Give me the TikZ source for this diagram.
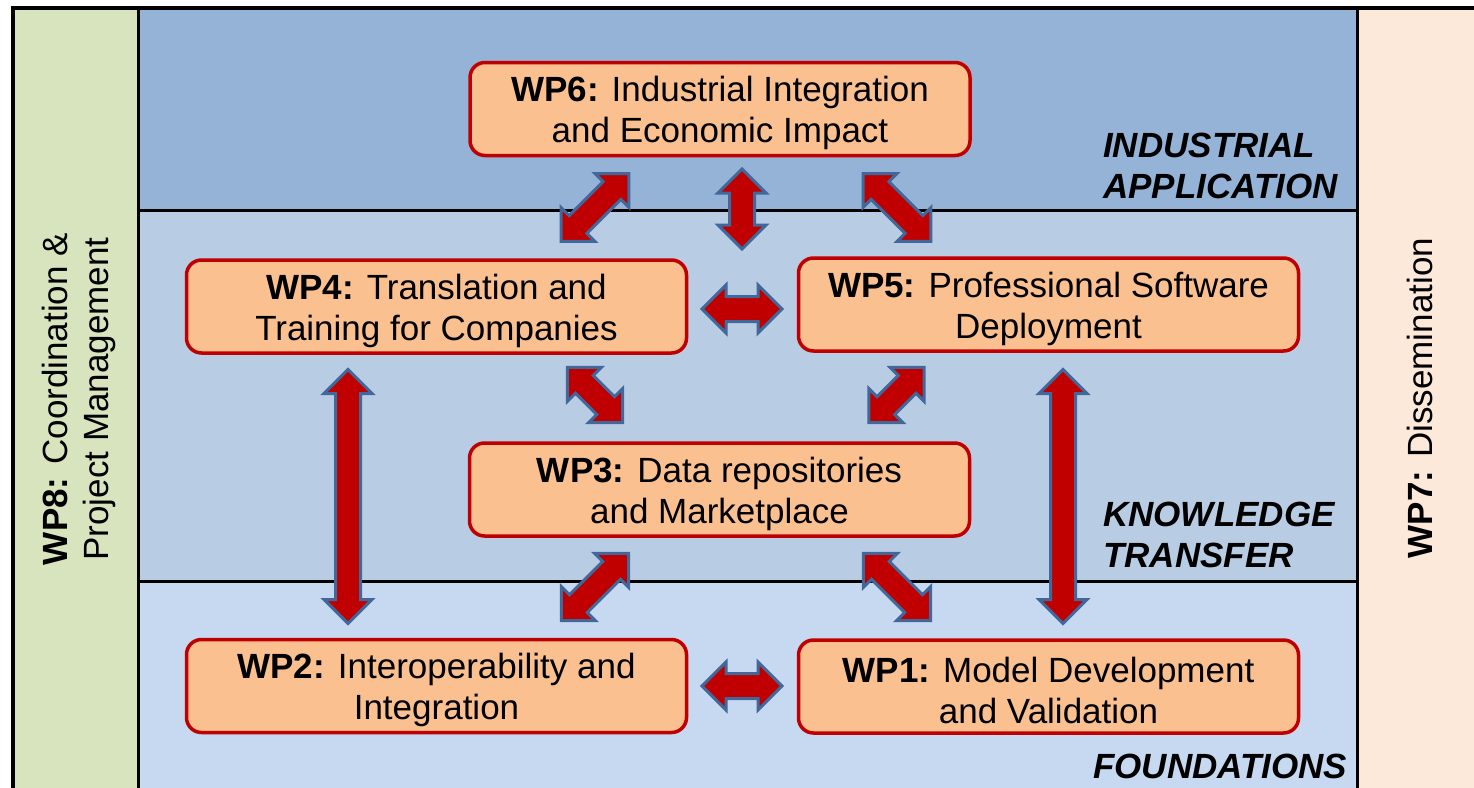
\documentclass[tikz,border=0pt]{standalone}
\usepackage{fontspec}
\setmainfont{Liberation Sans}
\usetikzlibrary{calc}
\definecolor{bandA}{HTML}{95B3D7}
\definecolor{bandB}{HTML}{B8CCE4}
\definecolor{bandC}{HTML}{C6D9F1}
\definecolor{wpgreen}{HTML}{D7E4BD}
\definecolor{wppeach}{HTML}{FDE9D9}
\definecolor{boxfill}{HTML}{FAC090}
\definecolor{boxline}{HTML}{C00000}
\definecolor{arrfill}{HTML}{C00000}
\definecolor{arrline}{HTML}{41689A}
\newcommand\topstrut{\rule{0pt}{34pt}}
\tikzset{
  wpbox/.style={draw=boxline, fill=boxfill, line width=3.5pt, rounded corners=15pt,
    minimum width=500pt, minimum height=93pt, align=center, inner sep=0pt,
    font=\fontsize{35}{41}\selectfont},
  blockarrow/.style={draw=arrline, fill=arrfill, line width=3pt, line join=miter},
  lbl/.style={font=\fontsize{35}{41}\selectfont\bfseries\itshape, align=left, inner sep=0pt},
  sidetxt/.style={font=\fontsize{35}{41}\selectfont, align=center, inner sep=0pt, rotate=90},
  sepline/.style={draw=black, line width=3pt},
}
\newcommand\blockarr[3]{%
  \begin{scope}[shift={(#1)}, rotate=#2]
    \path[blockarrow] (-#3/2,0) -- ++(24,24) -- ++(0,-11.5) -- (#3/2-24,12.5) -- ++(0,11.5)
      -- (#3/2,0) -- ++(-24,-24) -- ++(0,11.5) -- (-#3/2+24,-12.5) -- ++(0,-11.5) -- cycle;
  \end{scope}}
\begin{document}
\begin{tikzpicture}[x=1pt,y=-1pt]
\useasboundingbox (0,0) rectangle (1474,787);
\clip (0,0) rectangle (1474,787);
\fill[white] (0,0) rectangle (1474,787);
% bands
\fill[bandA] (138,8) rectangle (1357,210);
\fill[bandB] (138,210) rectangle (1357,581);
\fill[bandC] (138,581) rectangle (1357,800);
\fill[wpgreen] (13,8) rectangle (138,800);
\fill[wppeach] (1357,8) rectangle (1480,800);
\draw[sepline] (138,210) -- (1357,210);
\draw[sepline] (138,581) -- (1357,581);
\draw[sepline] (138,8) -- (138,800);
\draw[sepline] (1357,8) -- (1357,800);
\draw[black, line width=4pt] (13,800) -- (13,8) -- (1480,8);
% side texts
\node[sidetxt] (wp8) at (79,399) {\textbf{WP8:} Coordination \&\\Project Management};
\node[sidetxt] (wp7) at (1420,398) {\textbf{WP7:} Dissemination};
% band labels
\node[lbl, anchor=west] (lind) at (1103,166) {INDUSTRIAL\\APPLICATION};
\node[lbl, anchor=west] (lknow) at (1103,535) {KNOWLEDGE\\TRANSFER};
\node[lbl, anchor=west] (lfound) at (1093,766) {FOUNDATIONS};
% work package boxes
\node[wpbox] (wp6) at (720,109) {\topstrut\textbf{WP6:} Industrial Integration\\and Economic Impact};
\node[wpbox] (wp4) at (436.5,306.5) {\topstrut\textbf{WP4:} Translation and\\Training for Companies};
\node[wpbox] (wp5) at (1048.5,304.5) {\topstrut\textbf{WP5:} Professional Software\\Deployment};
\node[wpbox] (wp3) at (719.5,489.5) {\topstrut\textbf{WP3:} Data repositories\\and Marketplace};
\node[wpbox] (wp2) at (436.5,686) {\topstrut\textbf{WP2:} Interoperability and\\Integration};
\node[wpbox] (wp1) at (1048.5,686.5) {\topstrut\textbf{WP1:} Model Development\\and Validation};
% arrow centres
\coordinate (a64) at (595,207.5);
\coordinate (a65v) at (742,209);
\coordinate (a65d) at (897,207.5);
\coordinate (a45) at (742,309);
\coordinate (a43) at (595,395);
\coordinate (a53) at (896.5,395);
\coordinate (a42) at (348,496.5);
\coordinate (a51) at (1063,496.5);
\coordinate (a32) at (595,587);
\coordinate (a31) at (897,587);
\coordinate (a21) at (742,686);
% block arrows
\blockarr{a64}{45}{96}
\blockarr{a65v}{90}{80}
\blockarr{a65d}{-45}{96}
\blockarr{a45}{0}{80}
\blockarr{a43}{-45}{78}
\blockarr{a53}{45}{78}
\blockarr{a42}{90}{254}
\blockarr{a51}{90}{254}
\blockarr{a32}{45}{95}
\blockarr{a31}{-45}{95}
\blockarr{a21}{0}{80}
\end{tikzpicture}
\end{document}
